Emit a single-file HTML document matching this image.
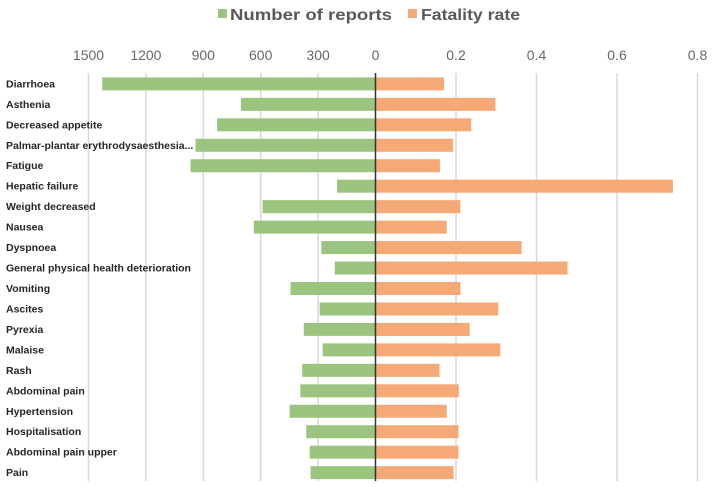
<!DOCTYPE html>
<html><head><meta charset="utf-8"><style>
body{margin:0;background:#fff;font-family:"Liberation Sans",Arial,sans-serif}
svg{display:block}
</style></head><body>
<svg id="chart" width="714" height="487">
<g>
 <rect x="218" y="9" width="9" height="9" fill="#9bc57e"/>
 <text x="230" y="20" font-size="16" font-weight="bold" fill="#595959" textLength="162" lengthAdjust="spacingAndGlyphs">Number of reports</text>
 <rect x="408" y="9" width="9" height="9" fill="#f4a977"/>
 <text x="421" y="20" font-size="16" font-weight="bold" fill="#595959" textLength="99" lengthAdjust="spacingAndGlyphs">Fatality rate</text>
</g>
<g id="grid"></g><g id="bars"></g><g id="ticks"></g><g id="labels"></g>
</svg>
<script>
const categories=["Diarrhoea","Asthenia","Decreased appetite","Palmar-plantar erythrodysaesthesia...","Fatigue","Hepatic failure","Weight decreased","Nausea","Dyspnoea","General physical health deterioration","Vomiting","Ascites","Pyrexia","Malaise","Rash","Abdominal pain","Hypertension","Hospitalisation","Abdominal pain upper","Pain"];
const reports=[1428,703,828,941,967,201,590,636,283,213,444,292,375,276,383,393,449,362,344,339];
const fatality=[0.170,0.298,0.238,0.193,0.160,0.739,0.211,0.177,0.363,0.477,0.211,0.305,0.234,0.310,0.159,0.207,0.177,0.206,0.206,0.194];
const leftTicks=[1500,1200,900,600,300,0];
const rightTicks=[0.2,0.4,0.6,0.8];
const NS="http://www.w3.org/2000/svg";
const zero=375.5;
const xL=v=>zero-v*57.4/300;
const xR=v=>zero+v*80.5/0.2;
const yRow=i=>83.9+i*20.46;
function mk(tag,attrs,parent){const e=document.createElementNS(NS,tag);for(const k in attrs)e.setAttribute(k,attrs[k]);document.getElementById(parent).appendChild(e);return e;}
leftTicks.forEach(t=>{
 if(t>0){const g=mk("line",{x1:xL(t),x2:xL(t),y1:73,y2:481,stroke:"#d9d9d9","stroke-width":1.5},"grid");
 
 }
 const tx=mk("text",{x:xL(t),y:60,"text-anchor":"middle","font-size":14,fill:"#666"},"ticks");
 tx.textContent=t;
 
 
});
rightTicks.forEach(t=>{
 const g=mk("line",{x1:xR(t),x2:xR(t),y1:73,y2:481,stroke:"#d9d9d9","stroke-width":1.5},"grid");
 
 
 const tx=mk("text",{x:xR(t),y:60,"text-anchor":"middle","font-size":14,fill:"#666"},"ticks");
 tx.textContent=t;
 
 
});
categories.forEach((c,i)=>{
 const y=yRow(i);
 const b=mk("rect",{x:xL(reports[i]),y:y-6.5,width:zero-xL(reports[i]),height:13,fill:"#9bc57e"},"bars");
 
 
 const o=mk("rect",{x:zero,y:y-6.5,width:xR(fatality[i])-zero,height:13,fill:"#f4a977"},"bars");
 
 
 const l=mk("text",{x:6,y:y+3.5,"font-size":10.5,"font-weight":"bold",fill:"#262626"},"labels");
 l.textContent=c;
 
 
});
const z=mk("line",{x1:zero,x2:zero,y1:73,y2:481,stroke:"#333","stroke-width":1.5},"bars");


</script>
</body></html>
